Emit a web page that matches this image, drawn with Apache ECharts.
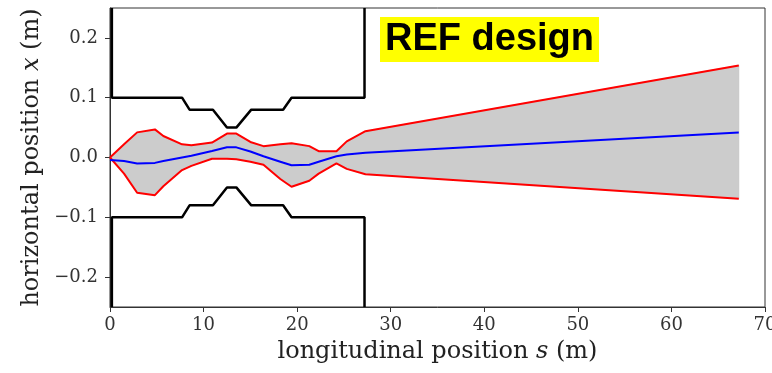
<!DOCTYPE html>
<html>
<head>
<meta charset="utf-8">
<script src="https://cdn.jsdelivr.net/npm/echarts@6/dist/echarts.min.js"></script>
<style>
  html, body { margin: 0; padding: 0; background: #fff; }
  #chart { width: 772px; height: 373px; }
</style>
</head>
<body>
<div id="chart"></div>
<script>
// Beam envelope along the beamline (m)
const envS      = [0, 1.5, 2.9, 4.8, 5.7, 7.7, 8.7, 10.9, 12.5, 13.5, 15.0, 16.4, 18.2, 19.4, 21.3, 22.3, 24.2, 25.3, 27.3, 67.2];
const envUpper  = [0.000, 0.022, 0.042, 0.047, 0.036, 0.022, 0.0205, 0.025, 0.040, 0.040, 0.026, 0.019, 0.022, 0.024, 0.019, 0.0105, 0.0105, 0.027, 0.044, 0.154];
const envCenter = [-0.004, -0.006, -0.010, -0.009, -0.006, 0.000, 0.003, 0.011, 0.017, 0.017, 0.010, 0.002, -0.007, -0.013, -0.012, -0.007, 0.002, 0.005, 0.008, 0.042];
const envLower  = [0.000, -0.027, -0.059, -0.063, -0.048, -0.021, -0.014, -0.002, -0.002, -0.003, -0.007, -0.012, -0.036, -0.049, -0.039, -0.027, -0.010, -0.019, -0.028, -0.069];

// Aperture walls
const wallS     = [0.2, 0.2, 7.7, 8.5, 11.0, 12.5, 13.5, 15.1, 18.5, 19.4, 27.2, 27.2];
const wallUpper = [0.25, 0.10, 0.10, 0.08, 0.08, 0.05, 0.05, 0.08, 0.08, 0.10, 0.10, 0.25];
const wallLower = [-0.25, -0.10, -0.10, -0.08, -0.08, -0.05, -0.05, -0.08, -0.08, -0.10, -0.10, -0.25];

// Axis ticks
const xTicks = [0, 10, 20, 30, 40, 50, 60, 70];
const yTicks = [-0.2, -0.1, 0.0, 0.1, 0.2];

const pairs = (xs, ys) => xs.map((x, i) => [x, ys[i]]);

const chart = echarts.init(document.getElementById('chart'), null, { renderer: 'canvas' });

const tickFont = { fontFamily: 'DejaVu Serif', fontSize: 18, color: '#333' };
const titleFont = { fontFamily: 'DejaVu Serif', fontSize: 24, color: '#222' };
const italicRich = { i: { fontFamily: 'DejaVu Serif', fontStyle: 'italic', fontSize: 24, color: '#222' } };

chart.setOption({
  animation: false,
  backgroundColor: '#ffffff',
  title: {
    text: 'REF design',
    left: 380,
    top: 17,
    padding: [0, 5, 0, 5],
    backgroundColor: '#ffff00',
    textStyle: {
      fontFamily: 'Liberation Sans',
      fontWeight: 'bold',
      fontSize: 38,
      lineHeight: 45,
      color: '#000'
    }
  },
  grid: {
    left: 110, right: 7, top: 8, bottom: 66,
    outerBoundsMode: 'none',
    containLabel: false,
    show: true, borderColor: '#333', borderWidth: 1, backgroundColor: 'transparent'
  },
  xAxis: {
    type: 'value',
    min: xTicks[0], max: xTicks[xTicks.length - 1], interval: 10,
    axisLine: { show: true, onZero: false, lineStyle: { color: '#333', width: 1 } },
    axisTick: { show: true, inside: false, length: 5, lineStyle: { color: '#333' } },
    axisLabel: { ...tickFont, margin: 9, hideOverlap: false },
    splitLine: { show: false },
    name: 'longitudinal position {i|s} (m)',
    nameLocation: 'middle',
    nameGap: 33,
    nameTextStyle: { ...titleFont, rich: italicRich }
  },
  yAxis: {
    type: 'value',
    min: -0.25, max: 0.25,
    axisLine: { show: true, onZero: false, lineStyle: { color: '#333', width: 1 } },
    axisTick: { show: true, inside: false, length: 5, customValues: yTicks, lineStyle: { color: '#333' } },
    axisLabel: {
      ...tickFont, margin: 12, customValues: yTicks,
      formatter: v => v.toFixed(1).replace('-', '\u2212')
    },
    splitLine: { show: false },
    name: 'horizontal position {i|x} (m)',
    nameLocation: 'middle',
    nameGap: 64,
    nameTextStyle: { ...titleFont, rich: italicRich }
  },
  series: [
    {
      // grey band between the two envelope edges
      type: 'custom',
      coordinateSystem: 'cartesian2d',
      data: [[envS[0], envUpper[0]]],
      z: 1,
      silent: true,
      renderItem: (params, api) => {
        const pts = [];
        for (let i = 0; i < envS.length; i++) pts.push(api.coord([envS[i], envUpper[i]]));
        for (let i = envS.length - 1; i >= 0; i--) pts.push(api.coord([envS[i], envLower[i]]));
        return {
          type: 'polygon',
          shape: { points: pts },
          style: { fill: '#cccccc', stroke: '#bbbbbb', lineWidth: 0.6 }
        };
      }
    },
    {
      type: 'line', data: pairs(envS, envUpper), showSymbol: false, z: 3,
      lineStyle: { color: '#ff0000', width: 2 }
    },
    {
      type: 'line', data: pairs(envS, envLower), showSymbol: false, z: 3,
      lineStyle: { color: '#ff0000', width: 2 }
    },
    {
      type: 'line', data: pairs(envS, envCenter), showSymbol: false, z: 4,
      lineStyle: { color: '#0000ff', width: 2 }
    },
    {
      type: 'line', data: pairs(wallS, wallUpper), showSymbol: false, z: 5,
      lineStyle: { color: '#000000', width: 2.5 }
    },
    {
      type: 'line', data: pairs(wallS, wallLower), showSymbol: false, z: 5,
      lineStyle: { color: '#000000', width: 2.5 }
    }
  ]
});
</script>
</body>
</html>
